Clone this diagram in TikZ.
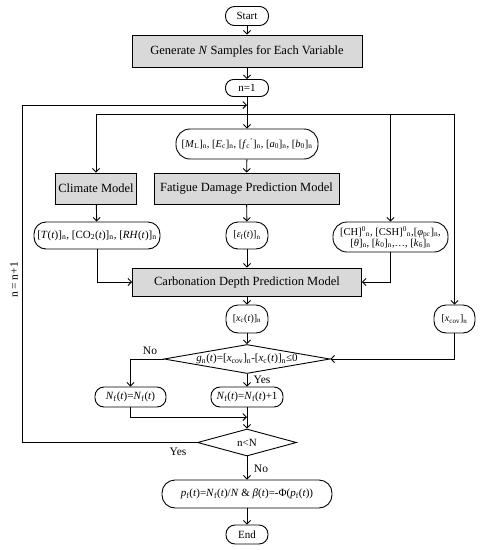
\documentclass[tikz,border=0pt]{standalone}
\usepackage{fontspec}
\setmainfont{Liberation Serif}
\usetikzlibrary{arrows.meta,positioning,shapes.geometric}
\definecolor{boxgray}{HTML}{D9D9D9}
\newcommand{\sub}[1]{\textsubscript{#1}}
\newcommand{\sups}[1]{\textsuperscript{#1}}

\begin{document}
\begin{tikzpicture}[x=1pt, y=-1pt, line width=0.9pt,
      blk/.style={draw, fill=boxgray, align=center, inner sep=1pt,
                  font=\fontsize{12.5}{14}\selectfont},
      term/.style={draw, fill=white, rounded corners=9pt, align=center, inner sep=1pt,
                   font=\fontsize{11}{13}\selectfont},
      dec/.style={draw, diamond, inner sep=0pt, align=center,
                  font=\fontsize{11}{13}\selectfont},
      lbl/.style={font=\fontsize{11.5}{13}\selectfont, inner sep=1pt},
      arr/.style={-{Straight Barb[length=3.5pt, width=7pt]}}]
    \useasboundingbox (0,0) rectangle (483,550);
    % main column
    \node[term, minimum width=43pt, minimum height=19pt] (start) at (247,16) {Start};
    \node[blk, minimum width=230pt, minimum height=32pt] (gen) at (247,51) {Generate \textit{N} Samples for Each Variable};
    \node[term, minimum width=43pt, minimum height=17pt, rounded corners=8pt] (n1) at (247,88) {n=1};
    \node[term, minimum width=142pt, minimum height=30pt, rounded corners=14pt,
          font=\fontsize{10.5}{12}\selectfont] (par) at (247,144)
          {[\textit{M}\sub{L}]\sub{n}, [\textit{E}\sub{c}]\sub{n}, [\textit{f}\sub{c}\sups{'}]\sub{n}, [\textit{a}\sub{0}]\sub{n}, [\textit{b}\sub{0}]\sub{n}};
    \node[blk, minimum width=81pt, minimum height=31pt] (clim) at (96,188.5) {Climate Model};
    \node[blk, minimum width=185pt, minimum height=31pt] (fat) at (246.5,188.5) {Fatigue Damage Prediction Model};
    \node[term, minimum width=126pt, minimum height=27pt, rounded corners=12pt] (temp) at (97,235.5)
          {[\textit{T}(\textit{t})]\sub{n}, [CO\sub{2}(\textit{t})]\sub{n}, [\textit{RH}(\textit{t})]\sub{n}};
    \node[term, minimum width=42pt, minimum height=27pt, rounded corners=12pt,
          font=\fontsize{10}{12}\selectfont] (eps) at (247,235.5) {[\textit{ε}\sub{f}(\textit{t})]\sub{n}};
    \node[term, minimum width=115pt, minimum height=30pt, rounded corners=14pt,
          font=\fontsize{10.5}{11}\selectfont] (ch) at (390.5,237)
          {[CH]\sups{0}\sub{n}, [CSH]\sups{0}\sub{n},[\textit{φ}\sub{pc}]\sub{n},\\{}%
           [\textit{θ}]\sub{n}, [\textit{k}\sub{0}]\sub{n},\dots, [\textit{k}\sub{6}]\sub{n}};
    \node[blk, minimum width=229pt, minimum height=28pt] (carb) at (247,282) {Carbonation Depth Prediction Model};
    \node[term, minimum width=42pt, minimum height=28pt, rounded corners=12pt,
          font=\fontsize{10}{12}\selectfont] (xc) at (247,319) {[\textit{x}\sub{c}(\textit{t})]\sub{n}};
    \node[term, minimum width=41pt, minimum height=28pt, rounded corners=12pt,
          font=\fontsize{10}{12}\selectfont] (xcov) at (454.5,319) {[\textit{x}\sub{cov}]\sub{n}};
    \node[dec, shape aspect=5.7, minimum width=166pt, minimum height=29pt] (g) at (247,359)
          {\textit{g}\sub{n}(\textit{t})=[\textit{x}\sub{cov}]\sub{n}-[\textit{x}\sub{c}(\textit{t})]\sub{n}≤0};
    \node[term, minimum width=71pt, minimum height=20pt] (nsame) at (130.5,397)
          {\textit{N}\sub{f}(\textit{t})=\textit{N}\sub{f}(\textit{t})};
    \node[term, minimum width=72pt, minimum height=20pt] (nplus) at (247,397)
          {\textit{N}\sub{f}(\textit{t})=\textit{N}\sub{f}(\textit{t})+1};
    \node[dec, shape aspect=3.7, minimum width=99pt, minimum height=27pt] (nlt) at (247,442.5) {n<N};
    \node[term, minimum width=170pt, minimum height=28pt, rounded corners=13pt] (pf) at (247,494)
          {\textit{p}\sub{f}(\textit{t})=\textit{N}\sub{f}(\textit{t})/\textit{N} \& \textit{β}(\textit{t})=-Φ(\textit{p}\sub{f}(\textit{t}))};
    \node[term, minimum width=42pt, minimum height=19pt] (end) at (247,534.5) {End};
    % junctions
    \coordinate (ret) at (247,105);
    \coordinate (jn) at (247,114);
    \coordinate (lft) at (22,442.5);
    \coordinate (mg) at (247,417);
    % connectors
    \draw[arr] (start) -- (gen);
    \draw[arr] (gen) -- (n1);
    \draw[arr] (n1) -- (par);
    \draw (clim.north |- jn) -- (xcov.north |- jn);
    \draw[arr] (clim.north |- jn) -- (clim);
    \draw[arr] (ch.north |- jn) -- (ch);
    \draw[arr] (xcov.north |- jn) -- (xcov);
    \draw[arr] (par) -- (fat);
    \draw[arr] (clim) -- (temp);
    \draw[arr] (fat) -- (eps);
    \draw[arr] (temp.south) |- (carb.west);
    \draw[arr] (eps) -- (carb);
    \draw[arr] (ch.south) |- (carb.east);
    \draw[arr] (carb) -- (xc);
    \draw[arr] (xc) -- (g);
    \draw[arr] (xcov.south) |- (g.east);
    \draw[arr] (g.west) -| (nsame.north);
    \draw[arr] (g) -- (nplus);
    \draw[arr] (nsame.south) |- (mg);
    \draw[arr] (nplus) -- (nlt);
    \draw[arr] (nlt.west) -- (lft) |- (ret);
    \draw[arr] (nlt) -- (pf);
    \draw[arr] (pf) -- (end);
    % labels
    \node[lbl] (lno1) at (150,351) {No};
    \node[lbl] (lyes1) at (262,380) {Yes};
    \node[lbl] (lyes2) at (178,452) {Yes};
    \node[lbl] (lno2) at (261,469) {No};
    \node[lbl, rotate=90] (linc) at (14,280) {n = n+1};
  \end{tikzpicture}
\end{document}
